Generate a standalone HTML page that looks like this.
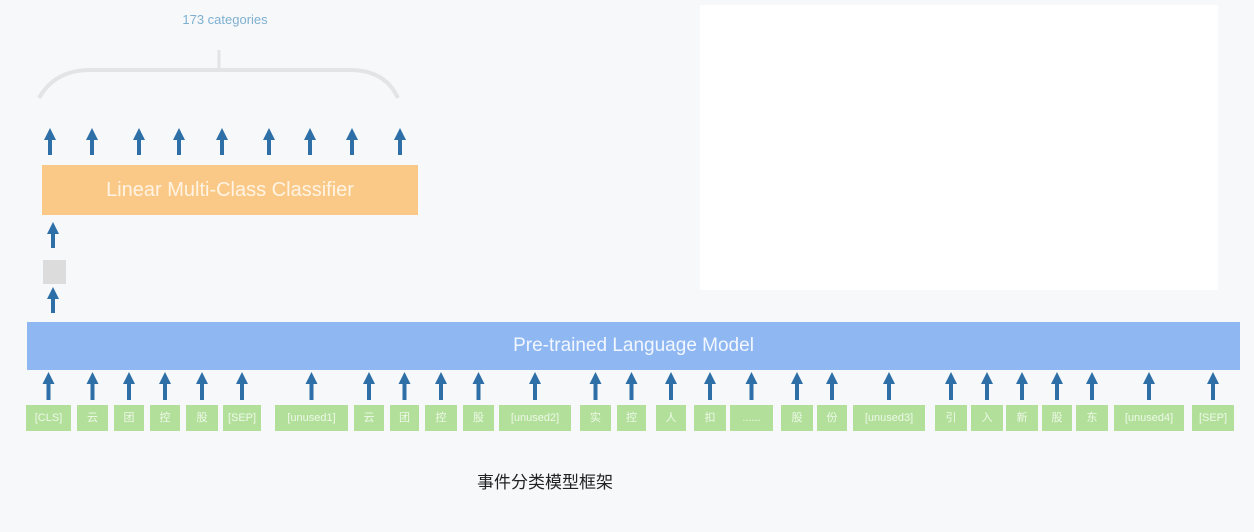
<!DOCTYPE html>
<html><head><meta charset="utf-8"><style>
body{margin:0;width:1254px;height:532px;background:#f6f8fa;position:relative;overflow:hidden;font-family:"Liberation Sans","Noto Sans CJK SC",sans-serif}
.a{position:absolute}
.tok{position:absolute;top:405px;height:26px;background:#b2e09a;color:#eef8e8;font-size:11px;line-height:26px;text-align:center}
</style></head><body>
<div class="a" style="left:700px;top:5px;width:518px;height:285px;background:#fff"></div>
<div class="a" style="left:170px;top:12px;width:110px;text-align:center;color:#7fb0d0;font-size:13px">173 categories</div>
<svg class="a" style="left:0;top:0" width="1254" height="532">
<defs><marker id="m" markerWidth="3" markerHeight="3" refX="1.5" refY="1.5" orient="auto"><path d="M0,0 L3,1.5 L0,3z" fill="#2f6fa8"/></marker></defs>
<path d="M39,98 Q55,70 90,70 L350,70 Q385,70 398,98" stroke="#e2e4e6" stroke-width="4" fill="none"/>
<line x1="219" y1="50" x2="219" y2="70" stroke="#e2e4e6" stroke-width="3"/>
<g stroke="#2f6fa8" stroke-width="4" marker-end="url(#m)">
<line x1="50" y1="155" x2="50" y2="134"/><line x1="92" y1="155" x2="92" y2="134"/><line x1="139" y1="155" x2="139" y2="134"/><line x1="179" y1="155" x2="179" y2="134"/><line x1="222" y1="155" x2="222" y2="134"/><line x1="269" y1="155" x2="269" y2="134"/><line x1="310" y1="155" x2="310" y2="134"/><line x1="352" y1="155" x2="352" y2="134"/><line x1="400" y1="155" x2="400" y2="134"/>
<line x1="53" y1="248" x2="53" y2="228"/><line x1="53" y1="313" x2="53" y2="293"/>
</g>
<g id="bot" stroke="#2f6fa8" stroke-width="4" marker-end="url(#m)"></g>
</svg>
<div class="a" style="left:42px;top:165px;width:376px;height:50px;background:#fbc987;color:#fff4e4;font-size:20px;line-height:50px;text-align:center">Linear Multi-Class Classifier</div>
<div class="a" style="left:43px;top:260px;width:23px;height:24px;background:#dcdcdc"></div>
<div class="a" style="left:27px;top:322px;width:1213px;height:48px;background:#8fb8f2;color:#f2f6ff;font-size:19px;line-height:48px;text-align:center">Pre-trained Language Model</div>
<div id="toks"></div>
<div class="a" style="left:440px;top:468px;width:210px;text-align:center;font-size:17px;color:#222">事件分类模型框架</div>
<script>
var t=[["[CLS]",26,71],["云",77,108],["团",114,144],["控",150,180],["股",186,218],["[SEP]",223,261],["[unused1]",275,348],["云",354,384],["团",390,419],["控",425,457],["股",463,494],["[unused2]",499,571],["实",580,611],["控",617,646],["人",656,686],["扣",694,726],["......",730,773],["股",781,813],["份",817,847],["[unused3]",853,925],["引",935,967],["入",971,1003],["新",1006,1038],["股",1042,1072],["东",1076,1108],["[unused4]",1114,1184],["[SEP]",1192,1234]];
var h="",s="";
t.forEach(function(e){h+='<div class="tok" style="left:'+e[1]+'px;width:'+(e[2]-e[1])+'px">'+e[0]+'</div>';var c=(e[1]+e[2])/2;s+='<line x1="'+c+'" y1="400" x2="'+c+'" y2="378"/>';});
document.getElementById("toks").innerHTML=h;
document.getElementById("bot").innerHTML=s;
</script>
</body></html>
